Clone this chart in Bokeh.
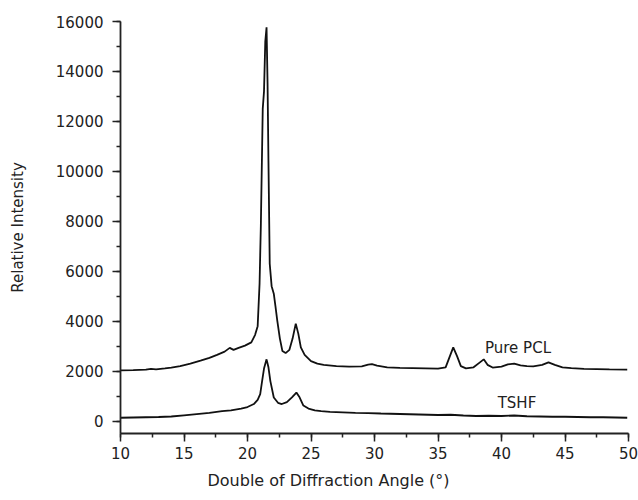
from bokeh.plotting import figure
from bokeh.models import SingleIntervalTicker, Title, Range1d
from bokeh.core.properties import value
from bokeh.embed import file_html
from bokeh.resources import INLINE

# Pure PCL curve (2-theta, intensity)
pcl_x = [10.0, 11.0, 12.0, 12.4, 12.8, 13.5, 14.0, 14.7, 15.5, 16.3, 17.0, 17.6, 18.2, 18.6, 18.9,
         19.3, 19.8, 20.3, 20.6, 20.8, 20.95, 21.05, 21.2, 21.3, 21.4, 21.5, 21.58, 21.65, 21.75,
         21.9, 22.07, 22.2, 22.35, 22.55, 22.75, 23.0, 23.3, 23.55, 23.8, 24.0, 24.2, 24.5, 25.0,
         25.5, 26.0, 27.0, 28.0, 29.0, 29.5, 29.8, 30.2, 31.0, 32.0, 33.0, 34.0, 35.0, 35.6, 35.9,
         36.2, 36.5, 36.8, 37.2, 37.8, 38.3, 38.6, 38.9, 39.3, 40.0, 40.5, 41.0, 41.5, 42.0, 42.5,
         43.2, 43.7, 44.2, 44.8, 45.5, 46.5, 47.5, 48.5, 49.9]
pcl_y = [2030, 2040, 2060, 2090, 2070, 2110, 2140, 2200, 2300, 2420, 2530, 2650, 2780, 2930, 2850,
         2930, 3020, 3150, 3450, 3800, 5500, 7800, 12500, 13200, 15200, 15770, 13500, 10400, 6300,
         5400, 5100, 4600, 4000, 3300, 2800, 2720, 2850, 3300, 3900, 3500, 2950, 2650, 2400,
         2300, 2250, 2200, 2180, 2190, 2260, 2280, 2220, 2150, 2130, 2120, 2110, 2100, 2150, 2550,
         2950, 2600, 2200, 2110, 2150, 2350, 2470, 2250, 2140, 2180, 2270, 2300, 2230, 2200, 2190,
         2250, 2350, 2250, 2150, 2120, 2090, 2080, 2070, 2060]

# TSHF curve
tshf_x = [10.0, 11.0, 12.0, 13.0, 14.0, 15.0, 16.0, 17.0, 18.0, 18.7, 19.5, 20.0, 20.5, 20.8, 21.0,
          21.15, 21.3, 21.5, 21.65, 21.8, 22.07, 22.4, 22.7, 23.1, 23.5, 23.85, 24.1, 24.4, 24.8,
          25.3, 25.8, 26.5, 27.5, 28.5, 29.5, 30.5, 32.0, 33.5, 35.0, 36.0, 37.0, 38.0, 39.0, 40.0,
          41.0, 42.0, 43.0, 44.0, 45.0, 46.0, 47.0, 48.0, 49.0, 49.9]
tshf_y = [130, 140, 150, 160, 180, 230, 280, 330, 400, 430, 500, 560, 680, 850, 1080,
          1600, 2100, 2470, 2150, 1600, 940, 730, 680, 760, 950, 1140, 950, 620, 500,
          430, 400, 370, 350, 330, 320, 300, 280, 260, 240, 250, 220, 200, 210, 200,
          220, 190, 180, 170, 170, 160, 150, 150, 140, 130]

x_ticks_interval = 5
y_ticks_interval = 2000
labels = ["Pure PCL", "TSHF"]
label_x = [38.7, 39.7]
label_y = [2940, 730]

FONT = "DejaVu Sans"

p = figure(width=638, height=500, output_backend="svg", toolbar_location=None,
           x_range=Range1d(10, 50), y_range=Range1d(-500, 16000),
           min_border_left=120, min_border_right=10, min_border_top=21, min_border_bottom=67)
p.outline_line_color = None
p.xgrid.grid_line_color = None
p.ygrid.grid_line_color = None
p.background_fill_color = "white"

p.line(pcl_x, pcl_y, line_color="#111111", line_width=1.8)
p.line(tshf_x, tshf_y, line_color="#111111", line_width=1.8)
p.text(x=label_x, y=label_y, text=labels, text_font=value(FONT), text_font_size="15px",
       text_baseline="middle", text_align="left", text_color="#222222")

for ax in (p.xaxis[0], p.yaxis[0]):
    ax.axis_line_width = 1.8
    ax.axis_line_color = "#222222"
    ax.major_tick_line_color = "#222222"
    ax.minor_tick_line_color = "#222222"
    ax.major_tick_line_width = 1.5
    ax.minor_tick_line_width = 1.5
    ax.major_tick_out = 8
    ax.major_tick_in = 0
    ax.minor_tick_out = 4
    ax.minor_tick_in = 0
    ax.major_label_text_font = FONT
    ax.major_label_text_font_size = "15px"
    ax.major_label_text_color = "#222222"

p.xaxis.ticker = SingleIntervalTicker(interval=x_ticks_interval, num_minor_ticks=2)
p.yaxis.ticker = SingleIntervalTicker(interval=y_ticks_interval, num_minor_ticks=2)
p.xaxis.major_label_standoff = 5
p.yaxis.major_label_standoff = 9

p.yaxis.axis_label = "Relative Intensity"
p.yaxis.axis_label_text_font = FONT
p.yaxis.axis_label_text_font_size = "15px"
p.yaxis.axis_label_text_font_style = "normal"
p.yaxis.axis_label_text_color = "#222222"
p.yaxis.axis_label_standoff = 26

t = Title(text="Double of Diffraction Angle (°)", align="left", offset=87,
          text_font=FONT, text_font_size="16px", text_font_style="normal",
          text_color="#222222", standoff=14)
p.add_layout(t, "below")

open("out.html", "w").write(file_html(p, INLINE))
